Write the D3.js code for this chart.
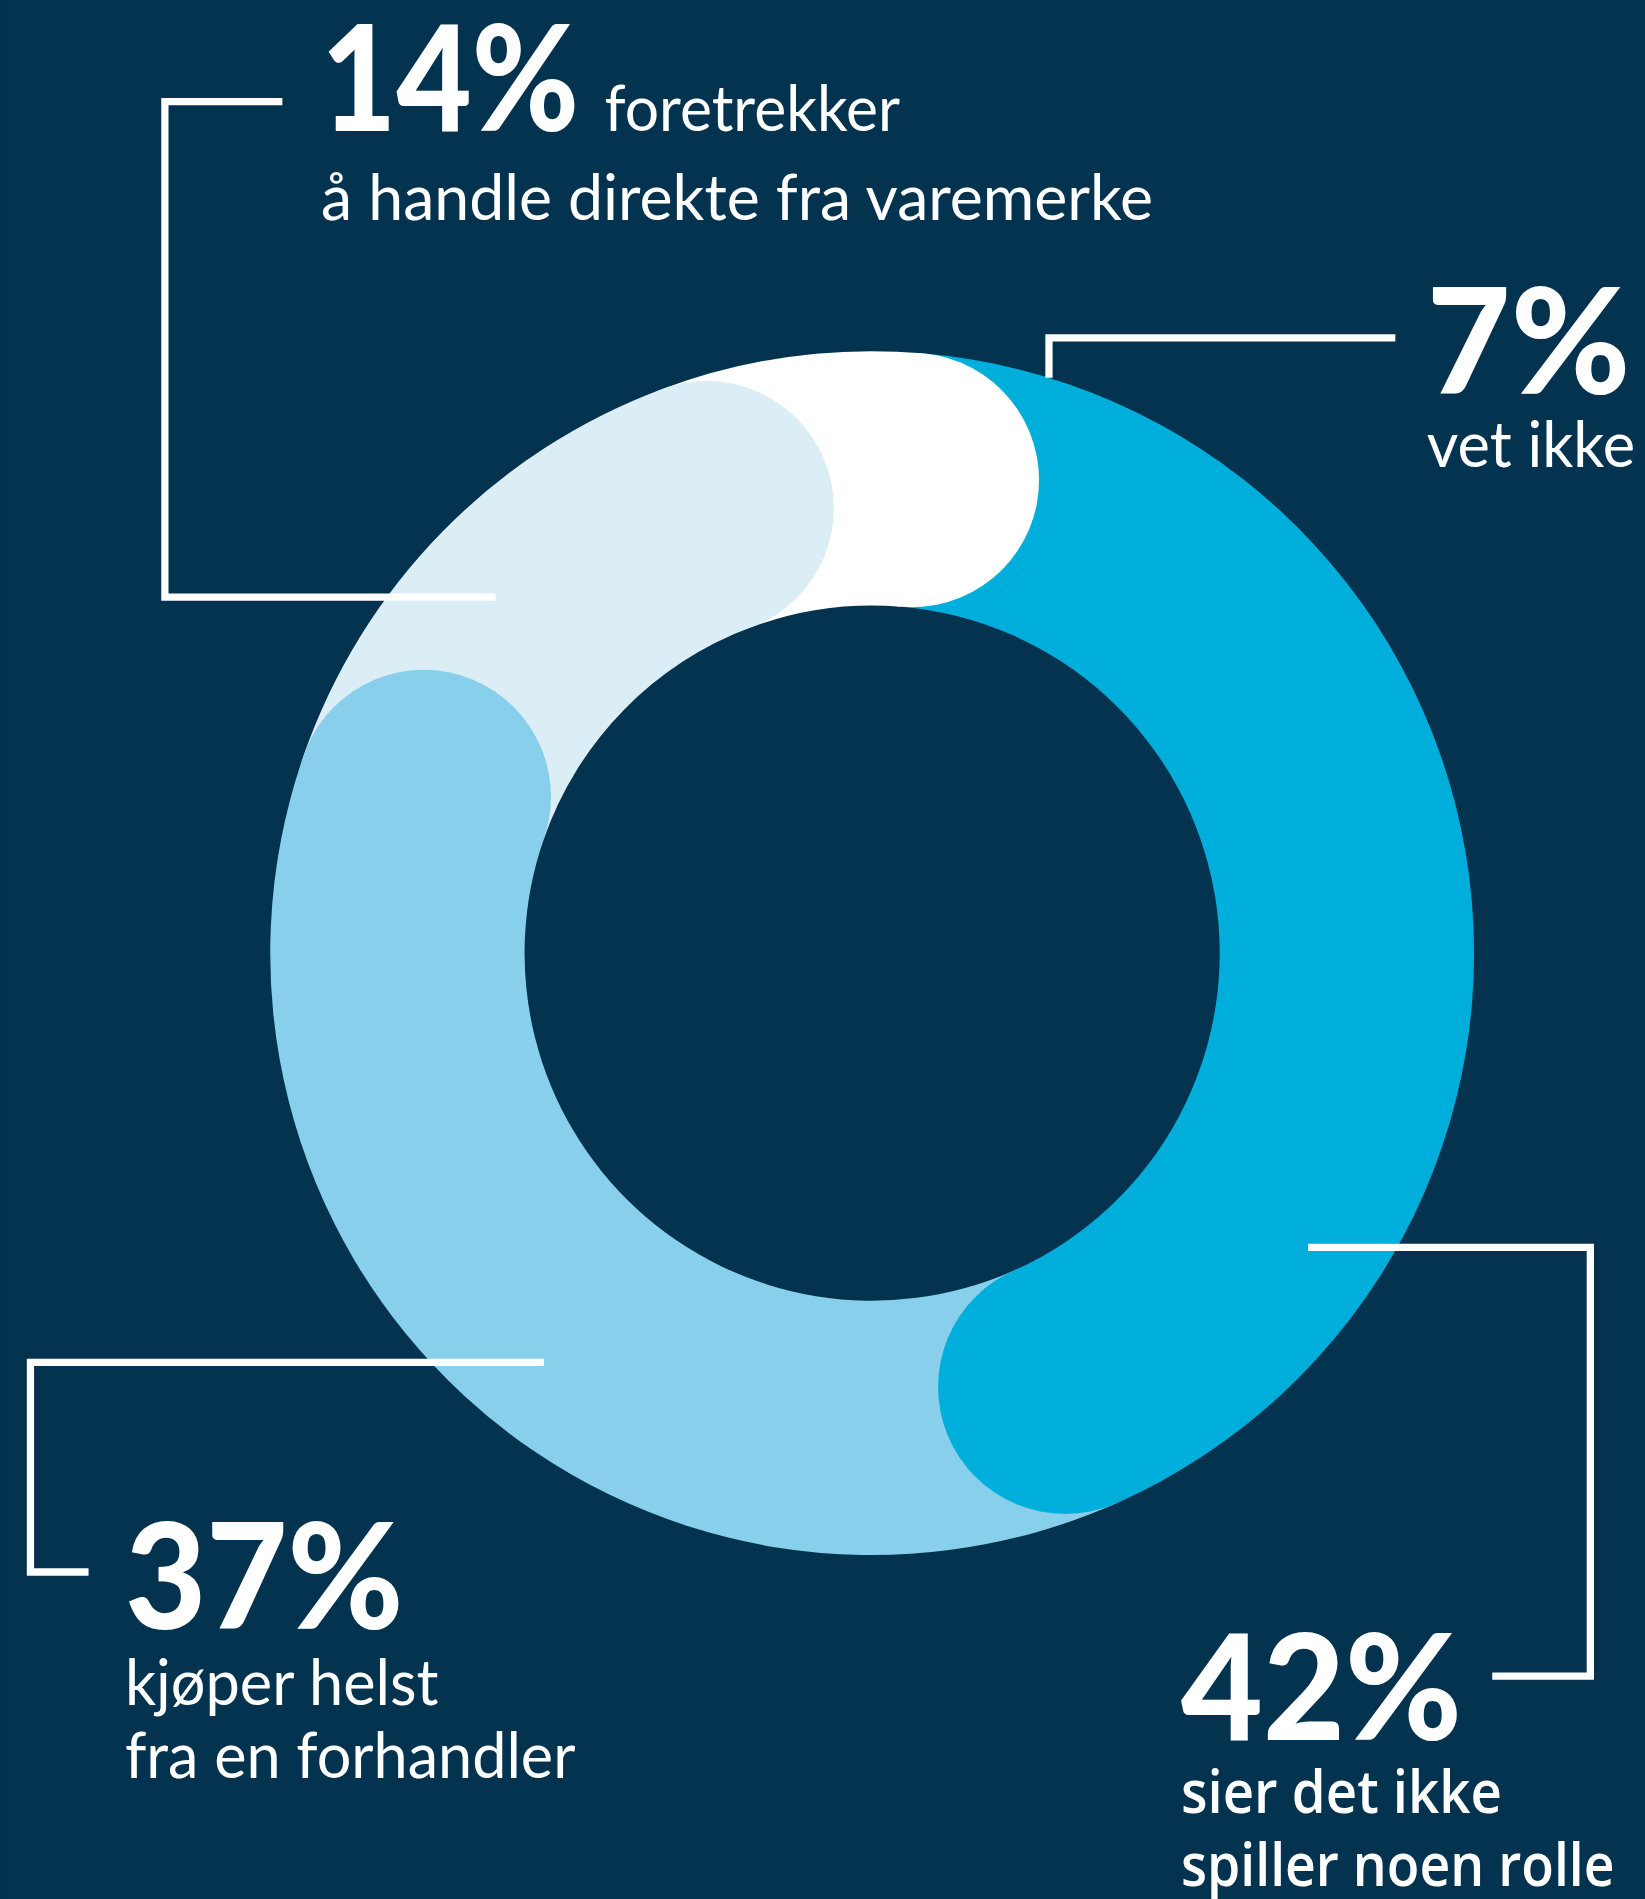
<!DOCTYPE html>
<html><head><meta charset="utf-8">
<script src="https://cdn.jsdelivr.net/npm/d3@7"></script>
<style>html,body{margin:0;padding:0;background:#04334f;}svg{display:block}</style>
</head><body>
<svg id="chart" width="1645" height="1899" viewBox="0 0 1358 1568"></svg>
<script>
// ---- data ----
const categories = ["vet ikke", "sier det ikke spiller noen rolle", "kjøper helst fra en forhandler", "foretrekker å handle direkte fra varemerke"];
const values = [7, 42, 37, 14];
const percentLabels = ["7%", "42%", "37%", "14%"];
const textLines = [
  ["vet ikke"],
  ["sier det ikke", "spiller noen rolle"],
  ["kjøper helst", "fra en forhandler"],
  ["foretrekker", "å handle direkte fra varemerke"]
];
const colors = ["#ffffff", "#00aedb", "#87cfeb", "#dbedf5"];

// ---- layout ----
const svg = d3.select("#chart");
svg.append("rect").attr("width", 1358).attr("height", 1568).attr("fill", "#04334f");
const cx = 720, cy = 787, R = 497, r = 287, rm = (R + r) / 2, capR = (R - r) / 2;
const startDeg = -20.4;
const pie = d3.pie().sort(null).value(d => d)
  .startAngle(startDeg * Math.PI / 180).endAngle(startDeg * Math.PI / 180 + 2 * Math.PI);
const slices = pie(values);
const arc = d3.arc().innerRadius(r).outerRadius(R);
const g = svg.append("g").attr("transform", `translate(${cx},${cy})`);
g.selectAll("path.seg").data(slices).join("path").attr("class", "seg")
  .attr("d", arc).attr("fill", (d, i) => colors[i]);
g.selectAll("circle.cap").data(slices).join("circle").attr("class", "cap")
  .attr("cx", d => rm * Math.sin(d.endAngle))
  .attr("cy", d => -rm * Math.cos(d.endAngle))
  .attr("r", capR).attr("fill", (d, i) => colors[i]);

// ---- leader lines ----
const lineStyle = s => s.attr("fill", "none").attr("stroke", "#fff").attr("stroke-width", 6).attr("stroke-linejoin", "miter");
const edgeY = x => cy - Math.sqrt(R * R - (x - cx) * (x - cx));
const leaders = [
  [[866, edgeY(866)], [866, 279], [1152, 279]],
  [[1080, 1030], [1313, 1030], [1313, 1384], [1232, 1384]],
  [[449, 1125], [25, 1125], [25, 1298], [73, 1298]],
  [[233, 84], [136, 84], [136, 493], [409, 493]]
];
svg.selectAll("path.lead").data(leaders).join("path").attr("class", "lead")
  .attr("d", d => d3.line()(d)).call(lineStyle);

// ---- labels ----
const labelPos = [
  {pct: [1178, 325, 168], lines: [[1178, 386, 172]], w: 400, fam: "Lato"},
  {pct: [975, 1437, 232], lines: [[975, 1497, 265], [975, 1557, 358]], w: 600, fam: "'Open Sans'"},
  {pct: [103, 1345, 230], lines: [[103, 1408, 259], [103, 1468, 372]], w: 400, fam: "Lato"},
  {pct: [265, 108, 213], lines: [[499, 108, 244], [265, 182, 687]], w: 400, fam: "Lato"}
];
labelPos.forEach((p, i) => {
  svg.append("text").attr("x", p.pct[0]).attr("y", p.pct[1])
    .attr("textLength", p.pct[2]).attr("lengthAdjust", "spacingAndGlyphs")
    .attr("font-family", "Lato, sans-serif").attr("font-weight", 900)
    .attr("font-size", 121).attr("fill", "#fff").text(percentLabels[i]);
  textLines[i].forEach((t, j) => {
    const l = p.lines[j];
    svg.append("text").attr("x", l[0]).attr("y", l[1])
      .attr("textLength", l[2]).attr("lengthAdjust", "spacingAndGlyphs")
      .attr("font-family", p.fam + ", sans-serif").attr("font-weight", p.w)
      .attr("font-size", p.fam === "Lato" ? 53 : 49).attr("fill", "#fff").text(t);
  });
});
</script>
</body></html>
